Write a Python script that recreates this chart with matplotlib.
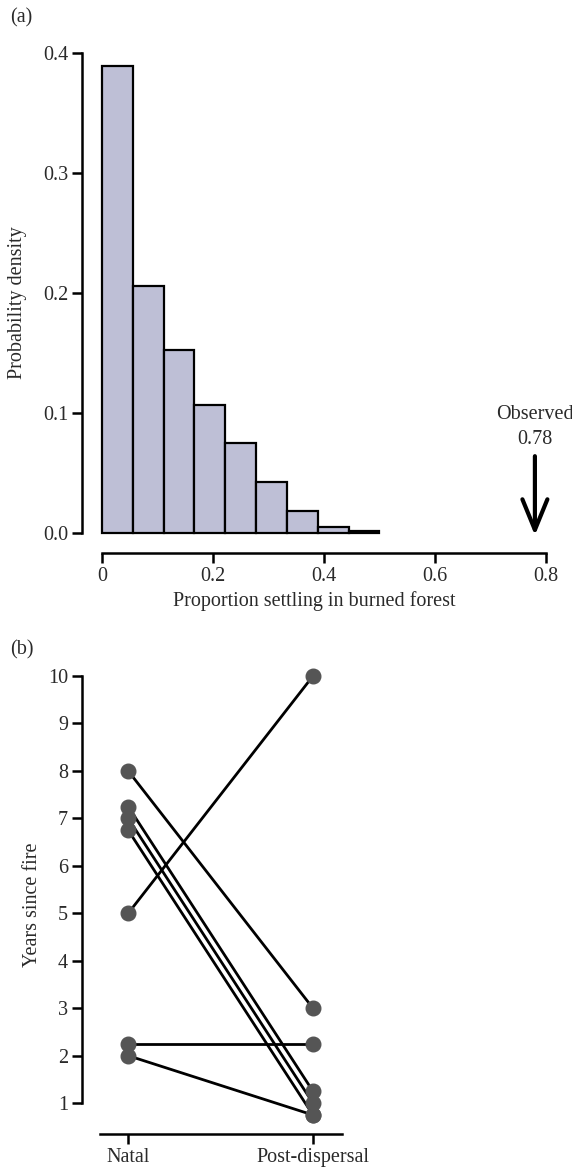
import matplotlib
matplotlib.use("Agg")
import matplotlib.pyplot as plt
import numpy as np

# ── Data ──────────────────────────────────────────────────────────────────────
bin_edges = np.linspace(0, 0.5, 10)          # 9 bins of 1/18
bin_probs = [0.389, 0.206, 0.1525, 0.107, 0.075, 0.0425, 0.018, 0.005, 0.0015]
observed  = 0.78

a_xticks      = [0, 0.2, 0.4, 0.6, 0.8]
a_xticklabels = ["0", "0.2", "0.4", "0.6", "0.8"]
a_yticks      = [0.0, 0.1, 0.2, 0.3, 0.4]

natal          = [8, 7.25, 7, 6.75, 5, 2.25, 2]
post_dispersal = [3, 1.25, 1.0, 0.75, 10, 2.25, 0.75]
b_categories   = ["Natal", "Post-dispersal"]
b_yticks       = list(range(1, 11))

# ── Style ─────────────────────────────────────────────────────────────────────
plt.rcParams["font.family"] = ["Liberation Serif", "DejaVu Serif"]
_TXT = "#2a2a2a"
_FS  = 14.5
_LW  = 1.8

W, H = 572, 1170
fig = plt.figure(figsize=(W / 100, H / 100), dpi=100)


def _axes_px(left, top, right, bottom):
    return fig.add_axes([left / W, 1 - bottom / H, (right - left) / W, (bottom - top) / H])


def _style(ax):
    for s in ("top", "right"):
        ax.spines[s].set_visible(False)
    for s in ("left", "bottom"):
        ax.spines[s].set_linewidth(_LW)
    ax.tick_params(length=7, width=_LW, labelsize=_FS, colors="black", labelcolor=_TXT, pad=3)


# ── Panel (a) ─────────────────────────────────────────────────────────────────
ax = _axes_px(82, 53, 546, 553)
_style(ax)
ax.bar(bin_edges[:-1], bin_probs, width=np.diff(bin_edges), align="edge",
       color="#bebfd6", edgecolor="black", linewidth=1.6)
ax.set_xlim(-0.036, 0.8)
ax.set_ylim(-0.0167, 0.4)
ax.spines["bottom"].set_bounds(0, 0.8)
ax.spines["left"].set_bounds(0, 0.4)
ax.set_xticks(a_xticks)
ax.set_xticklabels(a_xticklabels)
ax.set_yticks(a_yticks)
ax.set_yticklabels([f"{v:.1f}" for v in a_yticks])
ax.set_xlabel("Proportion settling in burned forest", fontsize=_FS, color=_TXT, labelpad=4)
ax.set_ylabel("Probability density", fontsize=_FS, color=_TXT)
ax.yaxis.set_label_coords(-0.118, 0.5)

ax.annotate("", xy=(observed, -0.002), xytext=(observed, 0.064),
            arrowprops=dict(arrowstyle="->,head_length=1.1,head_width=0.45",
                            mutation_scale=20, shrinkA=0, shrinkB=0,
                            color="black", lw=3.0))
ax.text(observed, 0.070, f"Observed\n{observed}", ha="center", va="bottom",
        fontsize=_FS, color=_TXT, linespacing=1.45)

fig.text(10 / W, 1 - 18 / H, "(a)", fontsize=_FS, color=_TXT, va="center")

# ── Panel (b) ─────────────────────────────────────────────────────────────────
ax = _axes_px(82, 676, 342, 1134)
_style(ax)
for y0, y1 in zip(natal, post_dispersal):
    ax.plot([0, 1], [y0, y1], color="black", lw=2.0, zorder=2, clip_on=False)
ax.plot([0] * len(natal), natal, "o", color="#555555", ms=10.5, zorder=3, clip_on=False)
ax.plot([1] * len(post_dispersal), post_dispersal, "o", color="#555555", ms=10.5,
        zorder=3, clip_on=False)
ax.set_xlim(-0.25, 1.157)
ax.set_ylim(0.35, 10)
ax.spines["bottom"].set_bounds(-0.15, 1.157)
ax.spines["left"].set_bounds(1, 10)
ax.set_xticks([0, 1])
ax.set_xticklabels(b_categories)
ax.set_yticks(b_yticks)
ax.set_ylabel("Years since fire", fontsize=_FS, color=_TXT)
ax.yaxis.set_label_coords(-0.154, 0.5)

fig.text(10 / W, 1 - 650 / H, "(b)", fontsize=_FS, color=_TXT, va="center")

fig.savefig("out.png", dpi=100, facecolor="white")
